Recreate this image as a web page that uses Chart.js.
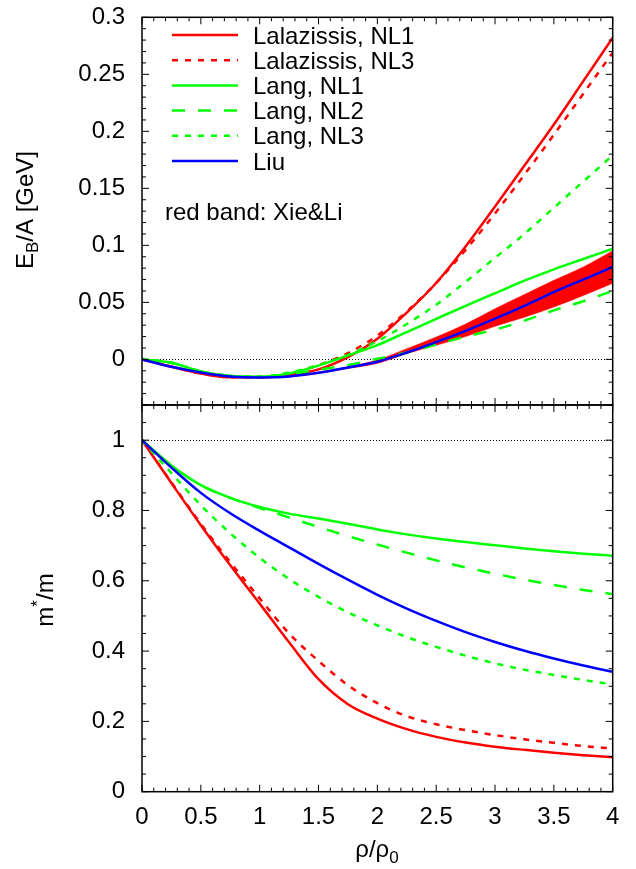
<!DOCTYPE html>
<html>
<head>
<meta charset="utf-8">
<title>E_B/A and m*/m vs density</title>
<script src="https://cdn.jsdelivr.net/npm/chart.js@4.4.1/dist/chart.umd.min.js"></script>
<style>
  html,body{margin:0;padding:0;background:#fff;}
  #wrap{position:relative;width:636px;height:869px;overflow:hidden;background:#fff;}
  canvas{position:absolute;left:0;}
  #top{top:0;}
  #bot{top:390px;}
</style>
</head>
<body>
<div id="wrap">
  <canvas id="top" width="636" height="420"></canvas>
  <canvas id="bot" width="636" height="479"></canvas>
</div>
<script>
// density grid rho/rho0
const rho = [0,0.25,0.5,0.75,1,1.25,1.5,1.75,2,2.25,2.5,2.75,3,3.25,3.5,3.75,4];

// binding energy per nucleon [GeV]
const ebLalNL1  = [0,-0.0064,-0.0123,-0.0157,-0.0157,-0.0137,-0.0088,0.002,0.018,0.041,0.067,0.099,0.134,0.170,0.206,0.244,0.282];
const ebLalNL3  = [0,-0.0064,-0.0123,-0.0157,-0.0155,-0.0125,-0.005,0.0055,0.021,0.042,0.067,0.096,0.128,0.162,0.197,0.233,0.269];
const ebLangNL1 = [0,-0.003,-0.0105,-0.0145,-0.0152,-0.0123,-0.0055,0.0035,0.0125,0.024,0.0355,0.047,0.058,0.069,0.079,0.088,0.097];
const ebLangNL2 = [0,-0.003,-0.0105,-0.0145,-0.0155,-0.013,-0.009,-0.005,0.0005,0.006,0.013,0.020,0.026,0.034,0.043,0.051,0.060];
const ebLangNL3 = [0,-0.003,-0.0105,-0.0145,-0.015,-0.0115,-0.005,0.004,0.016,0.031,0.048,0.068,0.089,0.110,0.133,0.156,0.179];
const ebLiu     = [0,-0.0065,-0.0115,-0.015,-0.0158,-0.015,-0.0118,-0.0072,-0.002,0.006,0.0152,0.025,0.0357,0.047,0.059,0.070,0.081];

// Xie & Li band
const rhoBand = [1,1.25,1.5,1.75,2,2.25,2.5,2.75,3,3.25,3.5,3.75,4];
const bandHi  = [-0.0157,-0.0147,-0.0112,-0.0064,-0.0005,0.0094,0.0196,0.031,0.0444,0.057,0.0693,0.081,0.0953];
const bandLo  = [-0.0159,-0.0153,-0.0124,-0.008,-0.0035,0.005,0.0123,0.020,0.029,0.037,0.0459,0.056,0.0667];

// effective mass ratio
const mLalNL1  = [1,0.878,0.758,0.644,0.535,0.425,0.320,0.249,0.208,0.178,0.156,0.140,0.128,0.119,0.111,0.104,0.098];
const mLalNL3  = [1,0.880,0.762,0.653,0.550,0.450,0.372,0.303,0.252,0.215,0.192,0.175,0.161,0.149,0.139,0.130,0.123];
const mLangNL1 = [1,0.928,0.872,0.836,0.810,0.791,0.777,0.762,0.746,0.732,0.720,0.710,0.701,0.692,0.684,0.677,0.671];
const mLangNL2 = [1,0.928,0.872,0.836,0.807,0.780,0.753,0.727,0.703,0.680,0.658,0.638,0.620,0.603,0.588,0.574,0.562];
const mLangNL3 = [1,0.906,0.815,0.735,0.665,0.605,0.554,0.510,0.473,0.440,0.412,0.387,0.365,0.347,0.332,0.318,0.305];
const mLiu     = [1,0.922,0.850,0.792,0.742,0.695,0.648,0.603,0.560,0.521,0.486,0.454,0.426,0.401,0.379,0.359,0.341];

const seriesNames  = ['Lalazissis, NL1','Lalazissis, NL3','Lang, NL1','Lang, NL2','Lang, NL3','Liu'];
const seriesColors = ['#ff0000','#ff0000','#00ff00','#00ff00','#00ff00','#0000ff'];
const DOT = [6,7], DASH = [13,13];
const seriesDash   = [[],DOT,[],DASH,DOT,[]];
const topSeries = [ebLalNL1,ebLalNL3,ebLangNL1,ebLangNL2,ebLangNL3,ebLiu];
const botSeries = [mLalNL1,mLalNL3,mLangNL1,mLangNL2,mLangNL3,mLiu];

// axes
const xTicks = [0,0.5,1,1.5,2,2.5,3,3.5,4];
const xLabels = ['0','0.5','1','1.5','2','2.5','3','3.5','4'];
const yTopTicks = [0,0.05,0.1,0.15,0.2,0.25,0.3];
const yTopLabels = ['0','0.05','0.1','0.15','0.2','0.25','0.3'];
const yBotTicks = [0,0.2,0.4,0.6,0.8,1];
const yBotLabels = ['0','0.2','0.4','0.6','0.8','1'];
const bandNote = 'red band: Xie&Li';

const FONT = '"Liberation Sans", Arial, Helvetica, sans-serif';

function lineSet(vals, i, withLabel){
  return {
    label: withLabel ? seriesNames[i] : undefined,
    data: rho.map((r,k)=>({x:r, y:vals[k]})),
    borderColor: seriesColors[i], borderWidth: 2.5, borderDash: seriesDash[i],
    pointRadius: 0, fill: false, cubicInterpolationMode: 'monotone', order: 6 - i
  };
}

// inward ticks on all four sides + frame + dotted reference line
function framePlugin(yMajor, yMin, yMax, yStep, refY){
  const isMajor = (list, v) => list.some(t => Math.abs(t - v) < 1e-6);
  return {
    id: 'frame',
    beforeDatasetsDraw(chart){
      const {ctx, chartArea:a, scales:{y}} = chart;
      const py = Math.round(y.getPixelForValue(refY)) + 0.5;
      ctx.save();
      ctx.strokeStyle = '#000'; ctx.lineWidth = 1; ctx.setLineDash([1,2]);
      ctx.beginPath(); ctx.moveTo(a.left, py); ctx.lineTo(a.right, py); ctx.stroke();
      ctx.restore();
    },
    afterDatasetsDraw(chart){
      const {ctx, chartArea:a, scales:{x,y}} = chart;
      ctx.save();
      ctx.strokeStyle = '#000'; ctx.lineWidth = 1; ctx.setLineDash([]);
      ctx.beginPath();
      const nx = Math.round(4 / 0.1);
      for(let i=0;i<=nx;i++){
        const v = i*0.1, px = x.getPixelForValue(v);
        const len = isMajor(xTicks, v) ? 7 : 4;
        ctx.moveTo(px, a.bottom); ctx.lineTo(px, a.bottom - len);
        ctx.moveTo(px, a.top); ctx.lineTo(px, a.top + len);
      }
      const ny = Math.round((yMax - yMin) / yStep);
      for(let i=0;i<=ny;i++){
        const v = yMin + i*yStep, py = y.getPixelForValue(v);
        const len = isMajor(yMajor, v) ? 7 : 4;
        ctx.moveTo(a.left, py); ctx.lineTo(a.left + len, py);
        ctx.moveTo(a.right, py); ctx.lineTo(a.right - len, py);
      }
      ctx.stroke();
      ctx.lineWidth = 1.5;
      ctx.strokeRect(a.left, a.top, a.right - a.left, a.bottom - a.top);
      ctx.restore();
    }
  };
}

// text with sub/superscripts, optionally rotated
function drawRich(ctx, parts, x, y, rotate){
  ctx.save();
  ctx.translate(x, y);
  if(rotate) ctx.rotate(-Math.PI/2);
  ctx.fillStyle = '#000'; ctx.textBaseline = 'alphabetic'; ctx.textAlign = 'left';
  let w = 0;
  parts.forEach(p => { ctx.font = p.size + 'px ' + FONT; w += ctx.measureText(p.t).width; });
  let cx = -w/2;
  parts.forEach(p => {
    ctx.font = p.size + 'px ' + FONT;
    ctx.fillText(p.t, cx, p.dy || 0);
    cx += ctx.measureText(p.t).width;
  });
  ctx.restore();
}

const topLabels = {
  id: 'topLabels',
  afterDraw(chart){
    const ctx = chart.ctx;
    ctx.save();
    ctx.font = '24px ' + FONT; ctx.fillStyle = '#000'; ctx.textBaseline = 'alphabetic';
    chart.data.datasets.filter(d => d.label).forEach((d, i) => {
      const y = 35 + i*25.2;
      ctx.strokeStyle = d.borderColor; ctx.lineWidth = d.borderWidth; ctx.setLineDash(d.borderDash);
      ctx.beginPath(); ctx.moveTo(172, y); ctx.lineTo(238, y); ctx.stroke();
      ctx.setLineDash([]);
      ctx.fillText(d.label, 253, y + 8.6);
    });
    ctx.fillText(bandNote, 165, 220);
    ctx.restore();
    drawRich(ctx, [{t:'E',size:24},{t:'B',size:17,dy:5},{t:'/A [GeV]',size:24}], 33, 210, true);
  }
};

const botLabels = {
  id: 'botLabels',
  afterDraw(chart){
    const ctx = chart.ctx;
    drawRich(ctx, [{t:'m',size:24},{t:'*',size:17,dy:-10},{t:'/m',size:24}], 53, 210, true);
    drawRich(ctx, [{t:'ρ/ρ',size:24},{t:'0',size:17,dy:6}], 377, 467, false);
  }
};

const tickFont = {family: FONT, size: 24};

// fixed axis sizes, no extra room for overhanging tick labels
function fixY(s){ s.width = 142; s.paddingTop = 0; s.paddingBottom = 0; }
function fixX(s){ s.height = 77.3; s.paddingLeft = 0; s.paddingRight = 0; }

// upper panel: binding energy
const topData = topSeries.map((s,i) => lineSet(s, i, true));
topData.push({
  data: rhoBand.map((r,k)=>({x:r, y:bandHi[k]})),
  borderColor: '#ff0000', borderWidth: 0.5, backgroundColor: '#ff0000',
  fill: '+1', pointRadius: 0, cubicInterpolationMode: 'monotone', order: 20
});
topData.push({
  data: rhoBand.map((r,k)=>({x:r, y:bandLo[k]})),
  borderColor: '#ff0000', borderWidth: 0.5,
  fill: false, pointRadius: 0, cubicInterpolationMode: 'monotone', order: 20
});

new Chart(document.getElementById('top'), {
  type: 'line',
  data: { datasets: topData },
  options: {
    responsive: false, animation: false, devicePixelRatio: 1, events: [],
    layout: { padding: { left: 0, right: 23.3, top: 17.3, bottom: 15 } },
    plugins: { legend: {display:false}, tooltip: {enabled:false} },
    scales: {
      x: { type: 'linear', min: 0, max: 4, display: false },
      y: {
        type: 'linear', min: -0.04, max: 0.3,
        afterBuildTicks: s => { s.ticks = yTopTicks.map(v => ({value: v})); },
        afterFit: fixY,
        grid: { display: false, drawTicks: false },
        border: { display: false },
        ticks: { font: tickFont, color: '#000', padding: 17, callback: (v, i) => yTopLabels[i] }
      }
    }
  },
  plugins: [framePlugin(yTopTicks, -0.04, 0.3, 0.01, 0), topLabels]
});

// lower panel: effective mass
new Chart(document.getElementById('bot'), {
  type: 'line',
  data: { datasets: botSeries.map((s,i) => lineSet(s, i, false)) },
  options: {
    responsive: false, animation: false, devicePixelRatio: 1, events: [],
    layout: { padding: { left: 0, right: 23.3, top: 15, bottom: 0 } },
    plugins: { legend: {display:false}, tooltip: {enabled:false} },
    scales: {
      x: {
        type: 'linear', min: 0, max: 4,
        afterBuildTicks: s => { s.ticks = xTicks.map(v => ({value: v})); },
        afterFit: fixX,
        grid: { display: false, drawTicks: false },
        border: { display: false },
        ticks: { font: tickFont, color: '#000', padding: 11.4, maxRotation: 0, autoSkip: false,
                 callback: (v, i) => xLabels[i] }
      },
      y: {
        type: 'linear', min: 0, max: 1.1,
        afterBuildTicks: s => { s.ticks = yBotTicks.map(v => ({value: v})); },
        afterFit: fixY,
        grid: { display: false, drawTicks: false },
        border: { display: false },
        ticks: { font: tickFont, color: '#000', padding: 17, callback: (v, i) => yBotLabels[i] }
      }
    }
  },
  plugins: [framePlugin(yBotTicks, 0, 1.1, 0.05, 1), botLabels]
});
</script>
</body>
</html>
